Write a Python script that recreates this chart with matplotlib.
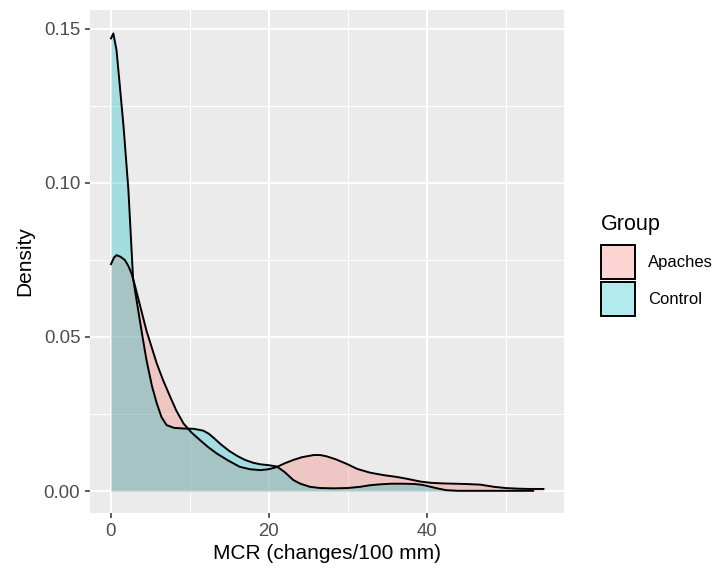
import matplotlib
matplotlib.use("Agg")
import matplotlib.pyplot as plt
from matplotlib.patches import Patch

plt.rcParams['font.family'] = ['Liberation Sans', 'DejaVu Sans']

# density curves (x = MCR, y = density)
control_x = [0.0, 0.3, 0.7, 1.1, 1.6, 2.2, 2.8, 3.3, 4.0, 4.5, 5.2, 5.8, 6.4, 7.05, 8.0,
             9.2, 10.5, 11.7, 12.4, 13.0, 14.0, 15.0, 16.0, 17.0, 18.0, 18.9, 20.0, 21.0,
             22.0, 23.1, 24.0, 25.2, 26.5, 28.2, 30.0, 31.6, 32.8, 34.1, 35.5, 37.0, 38.5,
             39.5, 40.5, 41.5, 42.5, 44.0, 47.0, 50.0, 53.5]
control_y = [0.1468, 0.1484, 0.143, 0.132, 0.118, 0.098, 0.069, 0.061, 0.050, 0.0425, 0.034,
             0.0285, 0.024, 0.0214, 0.0205, 0.0203, 0.0202, 0.0196, 0.0186, 0.0173, 0.0150,
             0.0130, 0.0114, 0.0101, 0.0092, 0.0087, 0.0084, 0.0080, 0.0062, 0.0036, 0.0024,
             0.0014, 0.0010, 0.0009, 0.0010, 0.0014, 0.0019, 0.0022, 0.0024, 0.0024, 0.0023,
             0.0020, 0.0014, 0.0008, 0.0003, 0.0001, 0.0001, 0.0001, 0.0001]

apache_x = [0.0, 0.4, 0.72, 1.2, 1.77, 2.2, 2.6, 3.0, 3.5, 4.5, 5.8, 6.6, 7.5, 8.3, 9.2,
            10.2, 11.3, 12.3, 13.4, 14.8, 16.3, 17.6, 18.9, 20.0, 21.0, 22.0, 23.1, 24.2,
            25.7, 26.5, 27.3, 28.5, 29.9, 31.2, 32.8, 34.5, 36.2, 37.5, 39.2, 40.5, 42.0,
            43.5, 45.0, 46.8, 48.5, 50.0, 51.5, 53.0, 54.8]
apache_y = [0.0736, 0.0758, 0.0765, 0.076, 0.0749, 0.073, 0.0706, 0.067, 0.062, 0.052,
            0.0414, 0.036, 0.0306, 0.026, 0.0219, 0.019, 0.0165, 0.0143, 0.0122, 0.0100,
            0.0079, 0.0071, 0.0068, 0.0071, 0.0078, 0.0090, 0.0101, 0.0110, 0.0117, 0.0117,
            0.0113, 0.0103, 0.0088, 0.0072, 0.0060, 0.0052, 0.0046, 0.0040, 0.0031, 0.0027,
            0.0025, 0.0024, 0.0023, 0.0021, 0.0014, 0.0010, 0.0008, 0.0007, 0.0007]

groups = ["Apaches", "Control"]
colors = ["#F8766D", "#00BFC4"]

fig = plt.figure(figsize=(7.21, 5.69), dpi=100)
ax = fig.add_axes([0.1248, 0.0984, 0.6574, 0.884])
ax.set_facecolor("#EBEBEB")

for gx, gy, col in [(apache_x, apache_y, colors[0]), (control_x, control_y, colors[1])]:
    ax.fill_between(gx, 0, gy, color=col, alpha=0.3, lw=0)
    ax.plot(gx, gy, color="black", lw=1.4, solid_joinstyle="round")

ax.set_xlim(-2.66, 57.4)
ax.set_ylim(-0.0071, 0.156)
ax.set_xticks([0, 20, 40])
ax.set_xticks([10, 30, 50], minor=True)
ax.set_yticks([0, 0.05, 0.10, 0.15])
ax.set_yticklabels(["0.00", "0.05", "0.10", "0.15"])
ax.set_yticks([0.025, 0.075, 0.125], minor=True)
ax.grid(which="major", color="white", lw=1.4)
ax.grid(which="minor", color="white", lw=0.7)
ax.set_axisbelow(True)
for s in ax.spines.values():
    s.set_visible(False)
ax.tick_params(which="major", length=3.5, width=1.1, color="#333333",
               labelcolor="#4D4D4D", labelsize=13.4, pad=3.5)
ax.tick_params(which="minor", length=0)

ax.set_xlabel("MCR (changes/100 mm)", fontsize=15, color="black", labelpad=3)
ax.set_ylabel("Density", fontsize=15, color="black", labelpad=7)

# legend: title drawn separately so the gap above the keys matches
fig.text(601 / 721, 1 - 225 / 569, "Group", fontsize=15.5, ha="left", va="center")
handles = []
for c in colors:
    h = Patch(facecolor=matplotlib.colors.to_rgba(c, 0.3), edgecolor="black", lw=1.4)
    handles.append(h)
leg = fig.legend(handles, groups, loc="upper left",
                 bbox_to_anchor=(593 / 721, 1 - 237 / 569), frameon=False, fontsize=12,
                 handlelength=2.04, handleheight=2.76,
                 handletextpad=0.75, labelspacing=0.16, borderpad=0)

fig.savefig("out.png", dpi=100)
